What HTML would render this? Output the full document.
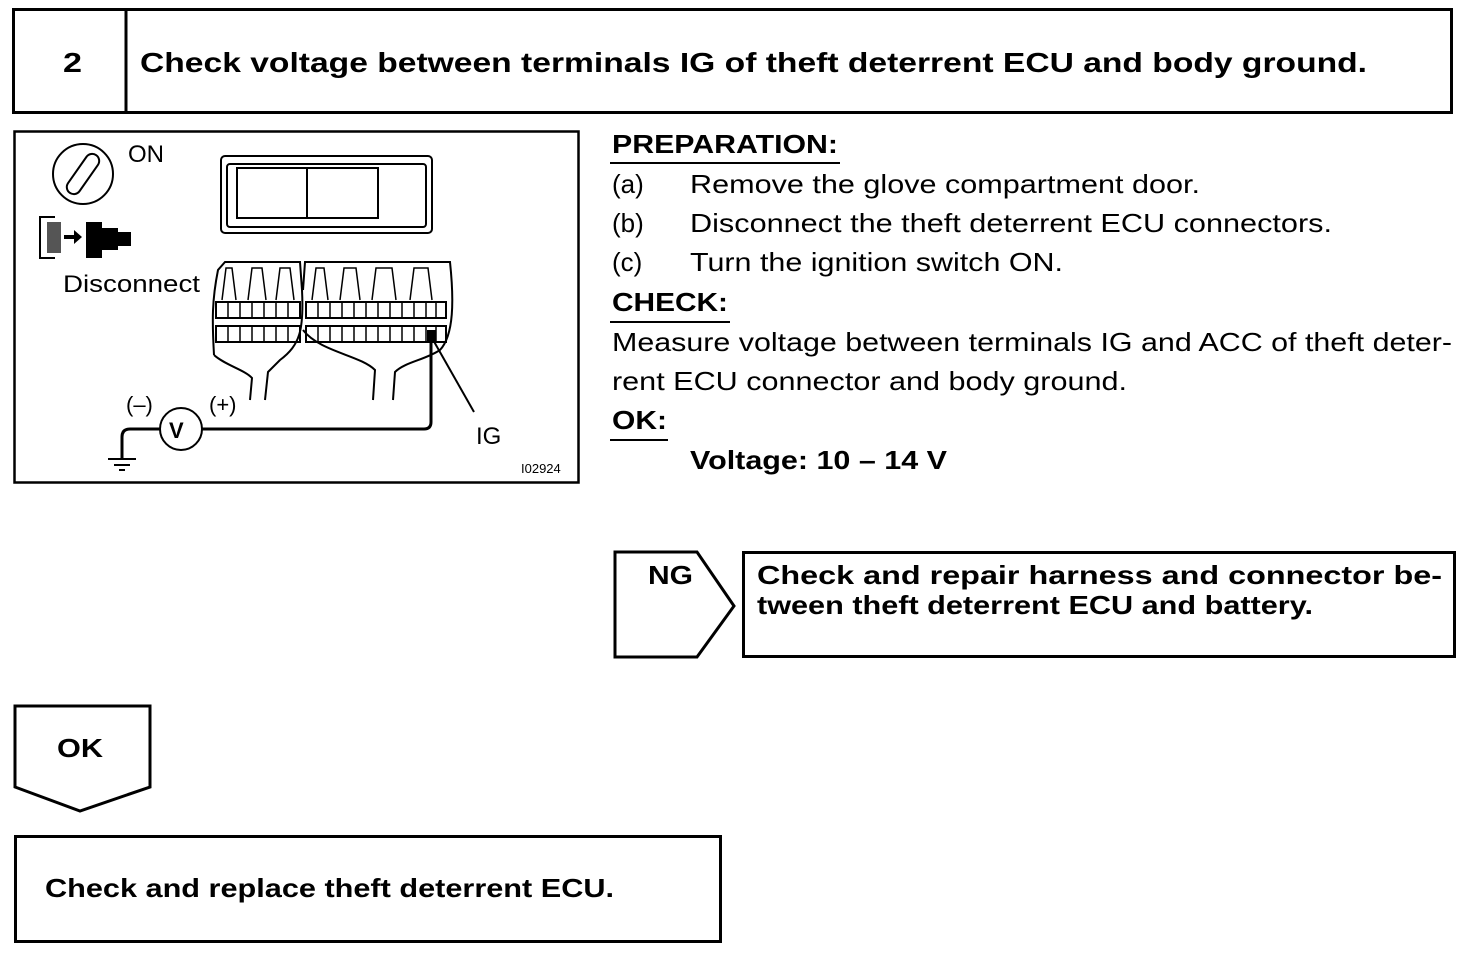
<!DOCTYPE html>
<html><head><meta charset="utf-8"><style>html,body{margin:0;padding:0;background:#fff}svg{display:block}</style></head>
<body>
<svg width="1472" height="956" viewBox="0 0 1472 956" xmlns="http://www.w3.org/2000/svg" font-family="Liberation Sans, Arial, sans-serif">
<rect width="1472" height="956" fill="#fff"/>
<g fill="none" stroke="#000" stroke-width="3">
<rect x="13.5" y="9.5" width="1438" height="103"/>
<line x1="126" y1="10" x2="126" y2="112"/>
<rect x="14.5" y="131.5" width="564" height="351" stroke-width="2.5"/>
<polygon points="615,552 697,552 734,606 697,657 615,657"/>
<rect x="743.5" y="552.5" width="711" height="104"/>
<polygon points="15,706 150,706 150,787 80,811 15,787"/>
<rect x="15.5" y="836.5" width="705" height="105"/>
</g>
<g font-weight="bold" font-size="28">
<text x="63" y="72" textLength="19" lengthAdjust="spacingAndGlyphs">2</text>
<text x="140" y="72" textLength="1227" lengthAdjust="spacingAndGlyphs">Check voltage between terminals IG of theft deterrent ECU and body ground.</text>
</g>
<g font-size="26">
<text x="612" y="153" font-weight="bold" textLength="226" lengthAdjust="spacingAndGlyphs">PREPARATION:</text>
<text x="612" y="193">(a)</text><text x="690" y="193" textLength="510" lengthAdjust="spacingAndGlyphs">Remove the glove compartment door.</text>
<text x="612" y="232">(b)</text><text x="690" y="232" textLength="642" lengthAdjust="spacingAndGlyphs">Disconnect the theft deterrent ECU connectors.</text>
<text x="612" y="271">(c)</text><text x="690" y="271" textLength="373" lengthAdjust="spacingAndGlyphs">Turn the ignition switch ON.</text>
<text x="612" y="311" font-weight="bold" textLength="116" lengthAdjust="spacingAndGlyphs">CHECK:</text>
<text x="612" y="351" textLength="840" lengthAdjust="spacingAndGlyphs">Measure voltage between terminals IG and ACC of theft deter-</text>
<text x="612" y="390" textLength="515" lengthAdjust="spacingAndGlyphs">rent ECU connector and body ground.</text>
<text x="612" y="429" font-weight="bold" textLength="55" lengthAdjust="spacingAndGlyphs">OK:</text>
<text x="690" y="469" font-weight="bold" textLength="257" lengthAdjust="spacingAndGlyphs">Voltage: 10 – 14 V</text>
</g>
<g stroke="#000" stroke-width="2">
<line x1="610" y1="163" x2="840" y2="163"/>
<line x1="610" y1="322" x2="730" y2="322"/>
<line x1="610" y1="440" x2="668" y2="440"/>
</g>
<g font-weight="bold" font-size="26">
<text x="648" y="584" textLength="45" lengthAdjust="spacingAndGlyphs">NG</text>
<text x="757" y="584" textLength="685" lengthAdjust="spacingAndGlyphs">Check and repair harness and connector be-</text>
<text x="757" y="614" textLength="556" lengthAdjust="spacingAndGlyphs">tween theft deterrent ECU and battery.</text>
<text x="57" y="757" textLength="46" lengthAdjust="spacingAndGlyphs">OK</text>
<text x="45" y="897" textLength="569" lengthAdjust="spacingAndGlyphs">Check and replace theft deterrent ECU.</text>
</g>
<!-- diagram -->
<g fill="none" stroke="#000" stroke-width="2">
<circle cx="83" cy="174" r="30"/>
<rect x="60" y="167" width="46" height="14" rx="7" transform="rotate(-55 83 174)"/>
<path d="M55,217 H40 V258 H55"/>
<rect x="221" y="156" width="211" height="77" rx="4"/>
<rect x="227" y="164" width="199" height="63" rx="3"/>
<rect x="237" y="168" width="141" height="50"/>
<line x1="307" y1="168" x2="307" y2="218"/>
<path d="M214,355 C212,320 212,300 218,270 L225,262 L300,262 L302,290 C304,330 300,345 280,360 L268,372 L265,400"/>
<path d="M214,355 C225,365 245,370 252,378 L250,400"/>
<path d="M303,290 L305,262 L450,262 C454,300 454,335 440,350 C425,360 405,362 395,372 L393,400"/>
<path d="M303,330 C320,352 360,355 375,370 L373,400"/>
<rect x="216" y="302" width="84" height="16"/>
<rect x="216" y="326" width="84" height="16"/>
<rect x="306" y="302" width="140" height="16"/>
<rect x="306" y="326" width="140" height="16"/>
<g stroke-width="1.5">
<path d="M228,302V318M240,302V318M252,302V318M264,302V318M276,302V318M288,302V318M228,326V342M240,326V342M252,326V342M264,326V342M276,326V342M288,326V342"/>
<path d="M318,302V318M330,302V318M342,302V318M354,302V318M366,302V318M378,302V318M390,302V318M402,302V318M414,302V318M426,302V318M436,302V318M318,326V342M330,326V342M342,326V342M354,326V342M366,326V342M378,326V342M390,326V342M402,326V342M414,326V342M426,326V342M436,326V342"/>
<path d="M222,300 L226,268 L232,268 L236,300 M248,300 L252,268 L262,268 L266,300 M276,300 L280,268 L290,268 L294,300 M312,300 L316,268 L324,268 L328,300 M340,300 L344,268 L356,268 L360,300 M372,300 L376,268 L392,268 L396,300 M410,300 L414,268 L428,268 L432,300"/>
</g>
<circle cx="181" cy="429" r="21"/>
<path d="M202,429 H424 Q431,429 431,422 V338" stroke-width="3"/>
<path d="M160,429 H130 Q122,429 122,437 V458" stroke-width="3"/>
<line x1="108" y1="459" x2="136" y2="459"/>
<line x1="114" y1="465" x2="130" y2="465"/>
<line x1="119" y1="470" x2="125" y2="470"/>
<line x1="432" y1="338" x2="474" y2="412"/>
</g>
<rect x="427" y="330" width="9" height="12" fill="#000"/>
<rect x="47" y="222" width="14" height="31" fill="#555"/>
<path d="M64,235 H74 V230 L82,237 L74,244 V239 H64Z" fill="#000"/>
<rect x="86" y="222" width="16" height="36" fill="#000"/>
<rect x="100" y="228" width="18" height="22" fill="#000"/>
<rect x="118" y="232" width="13" height="14" fill="#000"/>
<g font-size="24">
<text x="128" y="162">ON</text>
<text x="63" y="292" textLength="137" lengthAdjust="spacingAndGlyphs">Disconnect</text>
<text x="126" y="412" font-size="22">(–)</text>
<text x="209" y="412" font-size="22">(+)</text>
<text x="169" y="438" font-size="22" font-weight="bold">V</text>
<text x="476" y="444">IG</text>
<text x="521" y="473" font-size="13">I02924</text>
</g>
</svg>
</body></html>
